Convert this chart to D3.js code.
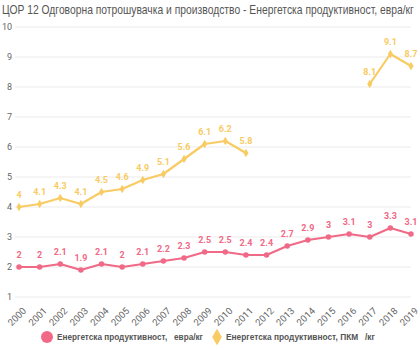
<!DOCTYPE html>
<html>
<head>
<meta charset="utf-8">
<script src="https://cdn.jsdelivr.net/npm/d3@7"></script>
<style>
  body { margin: 0; background: #fff; }
  svg { display: block; font-family: Roboto, "Noto Sans", sans-serif; }
</style>
</head>
<body>
<div id="chart"></div>
<script>
const years = ['2000','2001','2002','2003','2004','2005','2006','2007','2008','2009',
               '2010','2011','2012','2013','2014','2015','2016','2017','2018','2019'];
const euroPerKg = [2, 2, 2.1, 1.9, 2.1, 2, 2.1, 2.2, 2.3, 2.5, 2.5, 2.4, 2.4, 2.7, 2.9, 3, 3.1, 3, 3.3, 3.1];
const ppsPerKg = [4, 4.1, 4.3, 4.1, 4.5, 4.6, 4.9, 5.1, 5.6, 6.1, 6.2, 5.8, null, null, null, null, null, 8.1, 9.1, 8.7];
const yTicks = [1, 2, 3, 4, 5, 6, 7, 8, 9, 10];
const seriesNames = ['Енергетска продуктивност,   евра/кг', 'Енергетска продуктивност, ПКМ   /кг'];
const title = 'ЦОР 12 Одговорна потрошувачка и производство - Енергетска продуктивност, евра/кг';

const width = 420, height = 350;
const margin = { top: 27, right: 9, bottom: 53, left: 19 };
const pink = '#f06a87', yellow = '#f8cb63';

const svg = d3.select('#chart').append('svg')
    .attr('width', width)
    .attr('height', height);

// title is drawn in a narrowed font so that it fits the width like the original
const titleText = svg.append('text')
    .attr('x', 0)
    .attr('y', 0)
    .style('font-family', '"Liberation Sans", Arial, sans-serif')
    .style('font-size', '12px')
    .style('fill', '#555')
    .text(title);
const titleLen = titleText.node().getComputedTextLength();
titleText.attr('transform', `translate(2,14) scale(${412 / titleLen},1)`);

const x = d3.scalePoint()
    .domain(years)
    .range([margin.left, width - margin.right]);

const y = d3.scaleLinear()
    .domain([1, 10])
    .range([height - margin.bottom, margin.top]);

// grid
svg.append('g')
    .selectAll('line')
    .data(yTicks)
    .enter().append('line')
    .attr('x1', 15)
    .attr('x2', width - margin.right)
    .attr('y1', d => y(d))
    .attr('y2', d => y(d))
    .attr('stroke', '#ebebeb')
    .attr('stroke-width', 1);

svg.append('g')
    .attr('transform', 'translate(12,0)')
    .call(d3.axisLeft(y).tickValues(yTicks).tickSize(0).tickPadding(0).tickFormat(d3.format('d')))
    .call(g => g.select('.domain').remove())
    .call(g => g.selectAll('text')
        .style('font-size', '9px')
        .style('fill', '#666')
        .style('font-family', 'Roboto, sans-serif'));

svg.append('g')
    .attr('transform', `translate(0,${height - margin.bottom})`)
    .call(d3.axisBottom(x).tickSize(0).tickPadding(0))
    .call(g => g.select('.domain').remove())
    .call(g => g.selectAll('text')
        .style('font-size', '9.5px')
        .style('fill', '#666')
        .style('font-family', 'Roboto, sans-serif')
        .attr('text-anchor', 'end')
        .attr('dy', '0.35em')
        .attr('transform', 'translate(5,12) rotate(-45)'));

function drawSeries(values, color, symbolType) {
    const pts = years.map((yr, i) => ({ yr, v: values[i] }));
    const line = d3.line()
        .defined(d => d.v != null)
        .x(d => x(d.yr))
        .y(d => y(d.v));

    svg.append('path')
        .datum(pts)
        .attr('fill', 'none')
        .attr('stroke', color)
        .attr('stroke-width', 2.2)
        .attr('stroke-linejoin', 'round')
        .attr('d', line);

    const valid = pts.filter(d => d.v != null);
    svg.append('g')
        .selectAll('path')
        .data(valid)
        .enter().append('path')
        .attr('transform', d => `translate(${x(d.yr)},${y(d.v)})`)
        .attr('d', d3.symbol().type(symbolType).size(symbolType === d3.symbolDiamond ? 22 : 24))
        .attr('fill', color);

    svg.append('g')
        .selectAll('text')
        .data(valid)
        .enter().append('text')
        .attr('x', d => x(d.yr))
        .attr('y', d => y(d.v) - 9)
        .attr('text-anchor', 'middle')
        .style('font-size', '9px')
        .style('font-weight', 'bold')
        .style('fill', color)
        .text(d => d.v);
}

drawSeries(euroPerKg, pink, d3.symbolCircle);
drawSeries(ppsPerKg, yellow, d3.symbolDiamond);

// legend
const legend = svg.append('g').attr('transform', 'translate(0,337)');
legend.append('circle')
    .attr('cx', 47)
    .attr('cy', 0)
    .attr('r', 6)
    .attr('fill', pink);
legend.append('text')
    .attr('x', 57)
    .attr('y', 0)
    .attr('dy', '0.35em')
    .attr('xml:space', 'preserve')
    .attr('textLength', 146)
    .attr('lengthAdjust', 'spacingAndGlyphs')
    .style('font-family', '"Liberation Sans", Arial, sans-serif')
    .style('font-size', '9.5px')
    .style('font-weight', 'bold')
    .style('fill', '#555')
    .style('white-space', 'pre')
    .text(seriesNames[0]);
legend.append('path')
    .attr('transform', 'translate(217,0)')
    .attr('d', d3.symbol().type(d3.symbolDiamond).size(80))
    .attr('fill', yellow);
legend.append('text')
    .attr('x', 226)
    .attr('y', 0)
    .attr('dy', '0.35em')
    .attr('xml:space', 'preserve')
    .attr('textLength', 149)
    .attr('lengthAdjust', 'spacingAndGlyphs')
    .style('font-family', '"Liberation Sans", Arial, sans-serif')
    .style('font-size', '9.5px')
    .style('font-weight', 'bold')
    .style('fill', '#555')
    .style('white-space', 'pre')
    .text(seriesNames[1]);
</script>
</body>
</html>
